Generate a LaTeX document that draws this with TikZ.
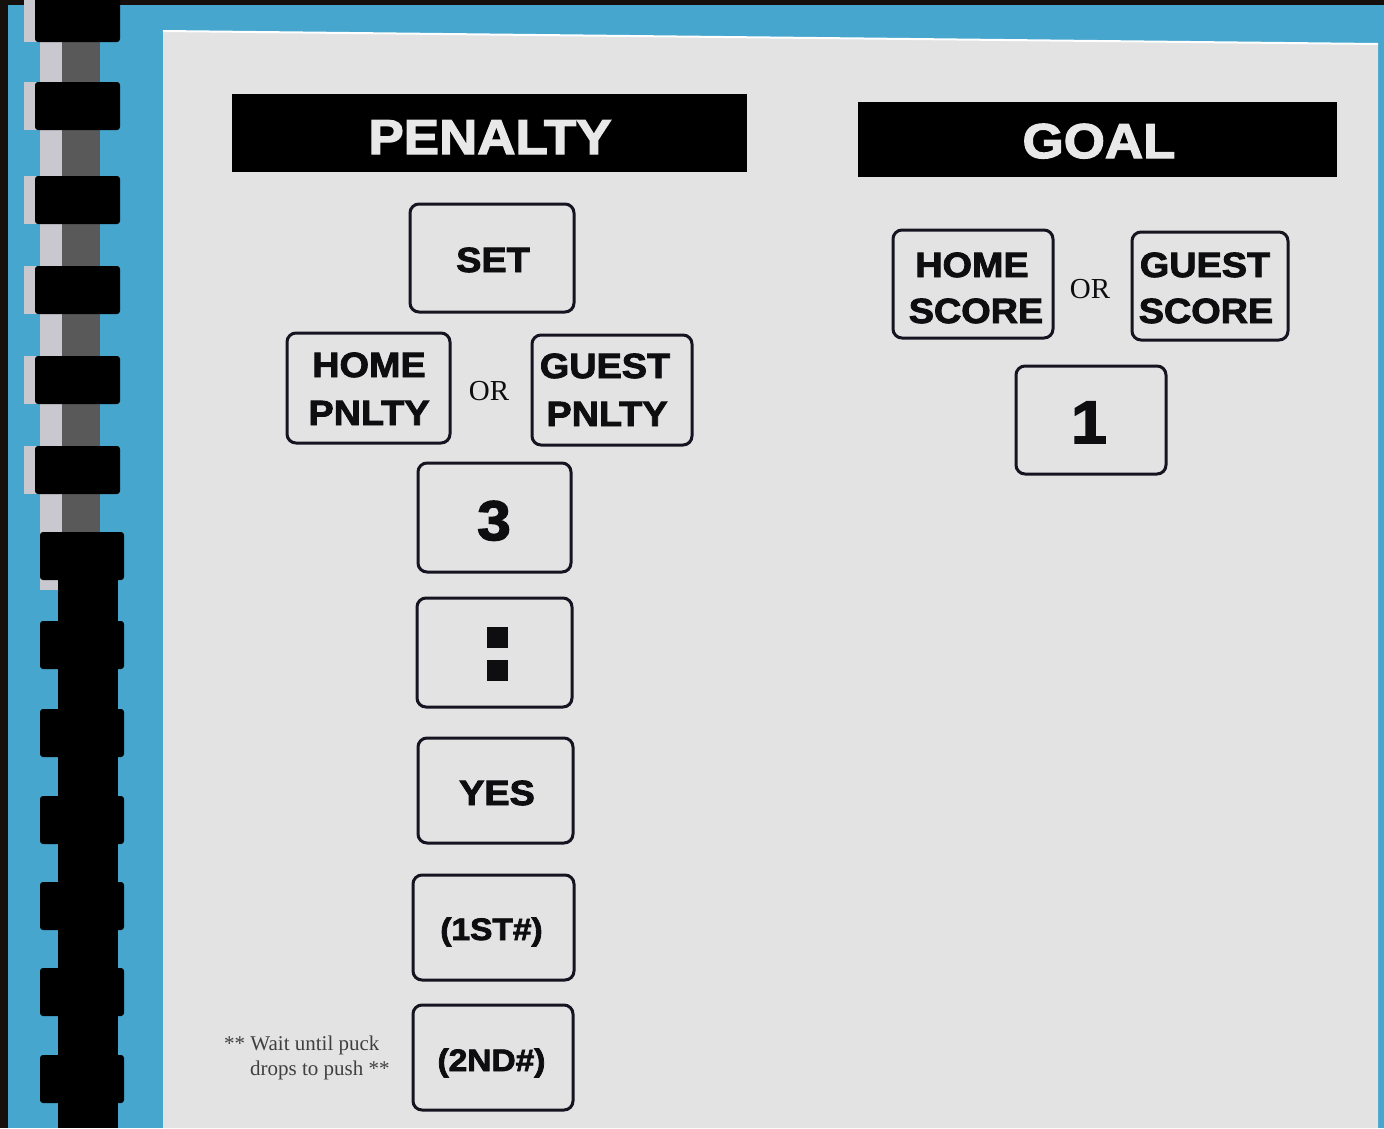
\documentclass[tikz,border=0pt]{standalone}
\usepackage{fontspec}
\setmainfont{Liberation Serif}
\newfontfamily\heavy{Liberation Sans}[BoldFeatures={FakeBold=2.5,FakeStretch=1.08}]
\definecolor{bluebg}{RGB}{70,166,206}
\definecolor{paper}{RGB}{227,227,227}
\definecolor{boxline}{RGB}{22,20,32}
\definecolor{ink}{RGB}{14,14,16}
\definecolor{darkframe}{RGB}{22,16,12}
\definecolor{spinehi}{RGB}{200,200,206}
\definecolor{titletext}{RGB}{232,232,232}
\begin{document}
\begin{tikzpicture}[x=1pt,y=-1pt,
  keybox/.style={draw=boxline, line width=3pt, rounded corners=9pt, inner sep=0pt},
  titlebar/.style={fill=black, inner sep=0pt},
  keytext/.style={anchor=base, inner sep=0pt, text=ink, font=\heavy\bfseries\fontsize{35}{40}\selectfont},
  ortext/.style={anchor=base, inner sep=0pt, text=ink, font=\fontsize{29}{32}\selectfont},
  notetext/.style={anchor=base west, inner sep=0pt, text=black!75, font=\fontsize{21}{23}\selectfont},
  titletxt/.style={anchor=base, inner sep=0pt, text=titletext, font=\heavy\bfseries\fontsize{49}{56}\selectfont}]
\useasboundingbox (0,0) rectangle (1384,1128);
% background
\fill[bluebg] (0,0) rectangle (1384,1128);
\fill[darkframe] (0,0) rectangle (1384,5);
\fill[darkframe] (0,0) rectangle (8,1128);
% paper
\fill[paper] (163,31) -- (1378,44) -- (1378,1128) -- (163,1128) -- cycle;
\draw[white, line width=2pt] (163,31) -- (1378,44);
% binding spine
\fill[spinehi] (40,0) rectangle (62,590);
\fill[black!65] (62,0) rectangle (100,590);
\fill[black] (58,580) rectangle (118,1128);
% binding teeth
\foreach \c in {18,106,200,290,380,470}{
  \fill[spinehi] (24,\c-24) rectangle (38,\c+24);
  \fill[black, rounded corners=3pt] (35,\c-24) rectangle (120,\c+24);
}
\foreach \c in {556,645,733,820,906,992,1079}{
  \fill[black, rounded corners=3pt] (40,\c-24) rectangle (124,\c+24);
}
% title bars
\node[titlebar, minimum width=515pt, minimum height=78pt] (penbar) at (489.5,133) {};
\node[titlebar, minimum width=479pt, minimum height=75pt] (goalbar) at (1097.5,139.5) {};
\node[titletxt] (pentitle) at (490,154) {PENALTY};
\node[titletxt] (goaltitle) at (1099,158) {GOAL};
% penalty keys
\node[keybox, minimum width=164pt, minimum height=108pt] (set) at (492,258) {};
\node[keybox, minimum width=163pt, minimum height=110pt] (hp) at (368.5,388) {};
\node[keybox, minimum width=160pt, minimum height=110pt] (gp) at (612,390) {};
\node[keybox, minimum width=153pt, minimum height=109pt] (three) at (494.5,517.5) {};
\node[keybox, minimum width=155pt, minimum height=109pt] (colon) at (494.5,652.5) {};
\node[keybox, minimum width=155pt, minimum height=105pt] (yes) at (495.5,790.5) {};
\node[keybox, minimum width=161pt, minimum height=105pt] (first) at (493.5,927.5) {};
\node[keybox, minimum width=160pt, minimum height=105pt] (second) at (493,1057.5) {};
\node[keytext] (settxt) at (493,272) {SET};
\node[keytext] (hp1) at (369,377) {HOME};
\node[keytext] (hp2) at (369,425) {PNLTY};
\node[ortext] (or1) at (489,400) {OR};
\node[keytext] (gp1) at (605,378) {GUEST};
\node[keytext] (gp2) at (607,426) {PNLTY};
\node[keytext, font=\heavy\bfseries\fontsize{56}{60}\selectfont] (threetxt) at (494,540) {3};
\fill[ink] (487,627) rectangle (508,648);
\fill[ink] (487,660) rectangle (508,681);
\node[keytext, font=\heavy\bfseries\fontsize{35}{40}\selectfont] (yestxt) at (497,805) {YES};
\node[keytext, font=\heavy\bfseries\fontsize{31}{36}\selectfont] (firsttxt) at (491.5,940) {(1ST\#)};
\node[keytext, font=\heavy\bfseries\fontsize{31}{36}\selectfont] (secondtxt) at (491.5,1071) {(2ND\#)};
\node[notetext] (note1) at (224,1050) {** Wait until puck};
\node[notetext] (note2) at (250,1075) {drops to push **};
% goal keys
\node[keybox, minimum width=160pt, minimum height=108pt] (hs) at (973,284) {};
\node[keybox, minimum width=156pt, minimum height=108pt] (gs) at (1210,286) {};
\node[keybox, minimum width=150pt, minimum height=108pt] (one) at (1091,420) {};
\node[keytext] (hs1) at (972,277) {HOME};
\node[keytext] (hs2) at (976,323) {SCORE};
\node[ortext] (or2) at (1090,298) {OR};
\node[keytext] (gs1) at (1205,277) {GUEST};
\node[keytext] (gs2) at (1206,323) {SCORE};
\node[keytext, font=\heavy\bfseries\fontsize{60}{64}\selectfont] (onetxt) at (1089,443) {1};
\end{tikzpicture}
\end{document}
